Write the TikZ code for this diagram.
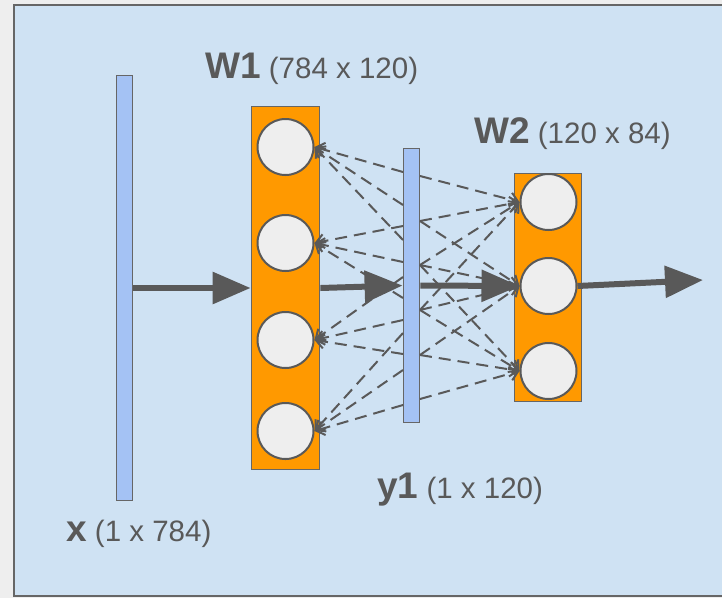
\documentclass[tikz,border=0pt]{standalone}
\usepackage{fontspec}
\setmainfont{Liberation Sans}
\usetikzlibrary{arrows.meta}
\definecolor{bgout}{HTML}{EEEEEE}
\definecolor{panel}{HTML}{CFE2F3}
\definecolor{edge}{HTML}{666666}
\definecolor{ink}{HTML}{595959}
\definecolor{barblue}{HTML}{A4C2F4}
\definecolor{layerorange}{HTML}{FF9900}
\definecolor{circ}{HTML}{EEEEEE}
\newcommand{\hdtext}[1]{{\fontsize{37}{39}\selectfont\bfseries #1}}
\begin{document}
\begin{tikzpicture}[x=1pt,y=-1pt,
  bar/.style={rectangle, draw=edge, fill=barblue, line width=1.8pt, minimum width=16pt, inner sep=0pt},
  layer/.style={rectangle, draw=edge, fill=layerorange, line width=1.8pt, inner sep=0pt},
  neuron/.style={circle, draw=ink, fill=circ, line width=2pt, minimum size=56pt, inner sep=0pt},
  flow/.style={draw=ink, line width=6pt, -{Triangle[length=38pt,width=31pt]}},
  conn/.style={draw=ink, line width=2pt, dash pattern=on 12pt off 7pt, -{Straight Barb[length=8pt,width=14pt]}},
  lbl/.style={text=ink, anchor=base west, inner sep=0pt, font=\fontsize{29.5}{31}\selectfont}
]
% background
\fill[bgout] (0,0) rectangle (722,598);
\useasboundingbox (0,0) rectangle (722,598);
\filldraw[fill=panel, draw=edge, line width=1.5pt] (14,5) rectangle (740,596);

% bars and layers
\node[bar, minimum height=425pt] (xbar) at (124.5,288) {};
\node[layer, minimum width=68pt, minimum height=363pt] (W1) at (285.5,288) {};
\node[bar, minimum height=274pt] (y1) at (411.5,285.5) {};
\node[layer, minimum width=67pt, minimum height=228pt] (W2) at (548,287.5) {};

% neurons
\node[neuron] (a1) at (285.5,147) {};
\node[neuron] (a2) at (285.5,243) {};
\node[neuron] (a3) at (285.5,340) {};
\node[neuron] (a4) at (285.5,431) {};
\node[neuron] (b1) at (548.5,202) {};
\node[neuron] (b2) at (548.5,286) {};
\node[neuron] (b3) at (548.5,371) {};

% attachment points on y1 bar
\foreach \yy in {172,205,226,240,262,277,298,320,333,354,370,405}
  \coordinate (L\yy) at (403,\yy);
\foreach \yy in {176,221,265,310,355,399}
  \coordinate (R\yy) at (420,\yy);

% dashed connections y1 -> W1
\foreach \p in {172,205,240} \draw[conn] (L\p) -- (a1.east);
\foreach \p in {226,262,298} \draw[conn] (L\p) -- (a2.east);
\foreach \p in {277,320,354} \draw[conn] (L\p) -- (a3.east);
\foreach \p in {333,370,405} \draw[conn] (L\p) -- (a4.east);
% dashed connections y1 -> W2
\foreach \p in {176,221,265,310} \draw[conn] (R\p) -- (b1.west);
\foreach \p in {221,265,310,355} \draw[conn] (R\p) -- (b2.west);
\foreach \p in {265,310,355,399} \draw[conn] (R\p) -- (b3.west);

% main flow arrows
\coordinate (out) at (703,280);
\draw[flow] (xbar.east) -- (W1.west);
\draw[flow] (W1.east) -- (y1.west);
\draw[flow] (y1.east) -- (b2.west);
\draw[flow] (b2.east) -- (out);

% labels
\node[lbl] (tW1) at (205,78) {\hdtext{W1} (784 x 120)};
\node[lbl] (tW2) at (474,143) {\hdtext{W2} (120 x 84)};
\node[lbl] (ty1) at (377,498) {\hdtext{y1} (1 x 120)};
\node[lbl] (tx) at (66,541) {\hdtext{x} (1 x 784)};
\end{tikzpicture}
\end{document}
